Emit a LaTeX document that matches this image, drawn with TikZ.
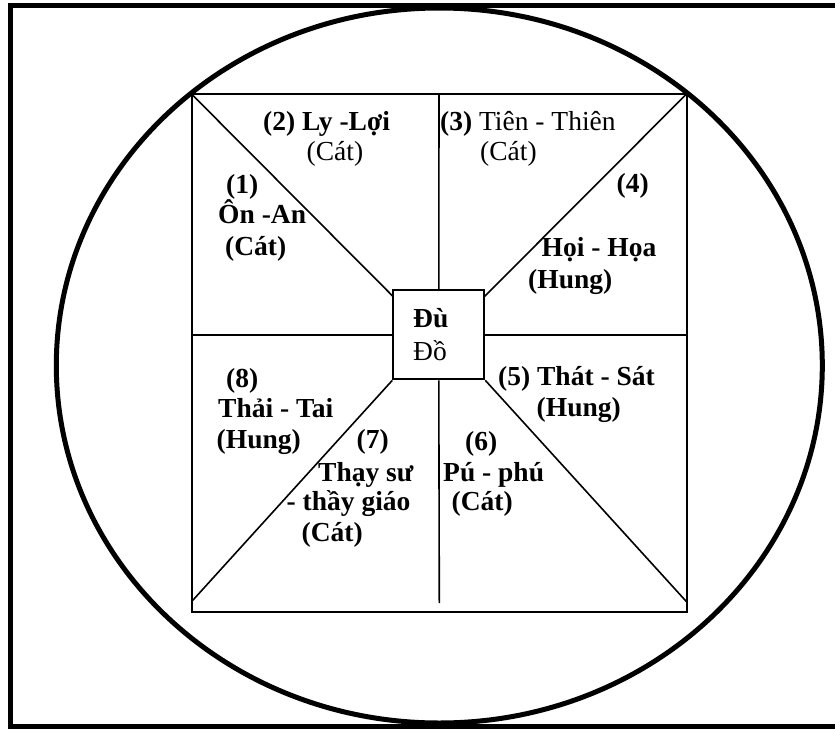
\documentclass[tikz,border=0pt]{standalone}
\usepackage{fontspec}
\setmainfont{Liberation Serif}
\begin{document}
\begin{tikzpicture}[x=1pt,y=-1pt,
  lb/.style={anchor=base west, inner sep=0pt, font=\fontsize{27.5}{30}\selectfont\bfseries},
  lr/.style={anchor=base west, inner sep=0pt, font=\fontsize{27.5}{30}\selectfont},
  frameline/.style={line width=5.5pt},
  ringline/.style={line width=5pt},
  boxline/.style={draw, line width=2pt, inner sep=0pt},
  divline/.style={line width=1.6pt}]
\useasboundingbox (0,0) rectangle (835,728);
\clip (0,0) rectangle (835,728);
\fill[white] (0,0) rectangle (835,728);
% outer frame (right side lies outside the picture)
\draw[frameline] (840,5.5) -- (10.5,5.5) -- (10.5,726.5) -- (840,726.5);
% big ellipse
\draw[ringline] (439.3,365.5) ellipse [x radius=383, y radius=357.5];
% square and centre box
\node[boxline, minimum width=495pt, minimum height=518pt] (sq) at (439,353) {};
\node[boxline, minimum width=91pt, minimum height=89.3pt] (c) at (438.8,334.7) {};
% free ends of dividers
\coordinate (tl) at (393.3,296.7);
\coordinate (tr) at (484.3,296.7);
\coordinate (bl) at (191.5,601.7);
\coordinate (br) at (686.5,601.7);
\coordinate (vb) at (439.3,603);
% dividers
\draw[divline] (sq.north) -- (c.north);
\draw[divline] (c.south) -- (vb);
\draw[divline] (sq.west |- c.west) -- (c.west);
\draw[divline] (c.east) -- (sq.east |- c.east);
\draw[divline] (sq.north west) -- (tl);
\draw[divline] (sq.north east) -- (tr);
\draw[divline] (c.south west) -- (bl);
\draw[divline] (c.south east) -- (br);
% texts
\node[lb] (t2a) at (263,130) {(2) Ly -Lợi};
\node[lr] (t2b) at (306.5,160) {(Cát)};
\node[lr] (t3a) at (440,130) {\bfseries(3)\mdseries{} Tiên - Thiên};
\node[lr] (t3b) at (480,160) {(Cát)};
\node[lb] (t1a) at (226,193) {(1)};
\node[lb] (t1b) at (218,223) {Ôn -An};
\node[lb] (t1c) at (225,255) {(Cát)};
\node[lb] (t4a) at (616.5,192) {(4)};
\node[lb] (t4b) at (541.5,256) {Họi - Họa};
\node[lb] (t4c) at (528,288) {(Hung)};
\node[lb] (tca) at (413,327) {Đù};
\node[lr] (tcb) at (413,360) {Đồ};
\node[lb] (t8a) at (226,387) {(8)};
\node[lb] (t8b) at (218,417) {Thải - Tai};
\node[lb] (t8c) at (216.5,448.5) {(Hung)};
\node[lb] (t7a) at (356.5,448.5) {(7)};
\node[lb] (t7b) at (318,481.5) {Thạy sư};
\node[lb] (t7c) at (286.5,510) {- thầy giáo};
\node[lb] (t7d) at (301.5,541.5) {(Cát)};
\node[lb] (t5a) at (498,385) {(5) Thát - Sát};
\node[lb] (t5b) at (536.5,416.5) {(Hung)};
\node[lb] (t6a) at (465,450) {(6)};
\node[lb] (t6b) at (443,481.5) {Pú - phú};
\node[lb] (t6c) at (451.5,510) {(Cát)};
\end{tikzpicture}
\end{document}
